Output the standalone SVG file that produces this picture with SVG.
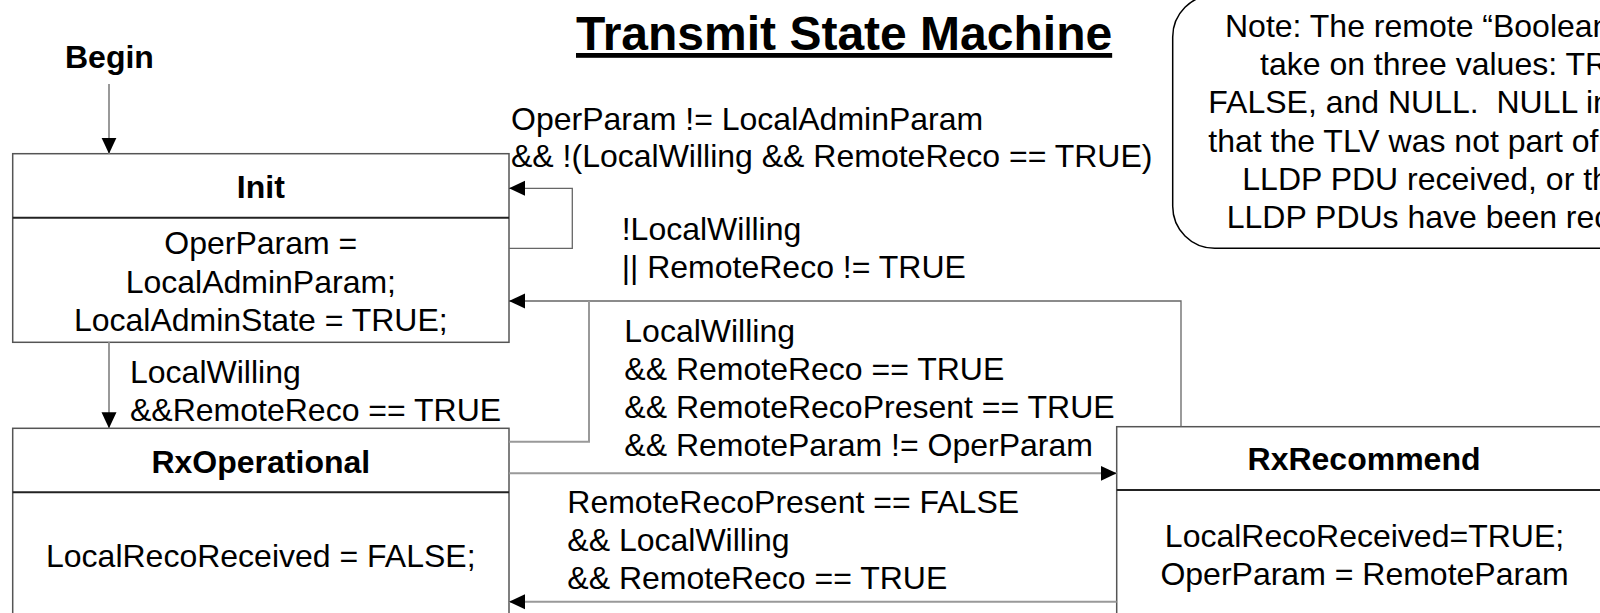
<svg xmlns="http://www.w3.org/2000/svg" width="1600" height="613" viewBox="0 0 1600 613">
  <style>
    text { font-family: "Liberation Sans", Arial, sans-serif; fill: #000; }
    .t { font-size: 32px; }
    .b { font-size: 32px; font-weight: bold; }
    .title { font-size: 48px; font-weight: bold; text-decoration: underline; }
    .mid { text-anchor: middle; }
    .box { fill: #fff; stroke: #555; stroke-width: 1.5; }
    .sep { stroke: #222; stroke-width: 2; }
    .c1 { fill: none; stroke: #999; stroke-width: 2; }
    .c2 { fill: none; stroke: #666; stroke-width: 1.3; }
  </style>
  <defs>
    <marker id="ah" markerUnits="userSpaceOnUse" markerWidth="16" markerHeight="16" viewBox="0 0 16 16" refX="16" refY="8" orient="auto">
      <path d="M0,0.5 L16,8 L0,15.5 Z" fill="#000"/>
    </marker>
  </defs>
  <rect width="1600" height="613" fill="#fff"/>

  <text id="title" class="title" x="576" y="50">Transmit State Machine</text>

  <g id="begin">
    <text class="b" x="65" y="68">Begin</text>
  </g>

  <g id="note">
    <rect x="1172.7" y="-5" width="480" height="253.3" rx="42" ry="42" fill="#fff" stroke="#000" stroke-width="1.5"/>
    <text class="t" x="1225" y="36.7">Note: The remote “Boolean</text>
    <text class="t" x="1260" y="75">take on three values: TR</text>
    <text class="t" x="1208.3" y="113.3" xml:space="preserve">FALSE, and NULL.  NULL in</text>
    <text class="t" x="1208.3" y="151.7">that the TLV was not part of</text>
    <text class="t" x="1242.3" y="190">LLDP PDU received, or th</text>
    <text class="t" x="1226.7" y="228.3">LLDP PDUs have been rec</text>
  </g>

  <g id="init">
    <rect class="box" x="12.7" y="153.7" width="496.3" height="188.6"/>
    <line class="sep" x1="12.7" y1="217.7" x2="509" y2="217.7"/>
    <text class="b mid" x="260.8" y="198.3">Init</text>
    <text class="t mid" x="260.8" y="254">OperParam =</text>
    <text class="t mid" x="260.8" y="292.5">LocalAdminParam;</text>
    <text class="t mid" x="260.8" y="331">LocalAdminState = TRUE;</text>
  </g>

  <g id="rxoperational">
    <rect class="box" x="12.7" y="428.3" width="496.3" height="200"/>
    <line class="sep" x1="12.7" y1="492.3" x2="509" y2="492.3"/>
    <text class="b mid" x="260.8" y="472.7">RxOperational</text>
    <text class="t mid" x="260.8" y="566.7">LocalRecoReceived = FALSE;</text>
  </g>

  <g id="rxrecommend">
    <rect class="box" x="1116.7" y="426.7" width="500" height="200"/>
    <line class="sep" x1="1116.7" y1="490" x2="1616" y2="490"/>
    <text class="b mid" x="1364" y="470">RxRecommend</text>
    <text class="t mid" x="1364.5" y="546.7">LocalRecoReceived=TRUE;</text>
    <text class="t mid" x="1364.5" y="585">OperParam = RemoteParam</text>
  </g>

  <g id="connectors">
    <path class="c1" d="M109,84 V153.7" marker-end="url(#ah)"/>
    <path class="c1" d="M109,342.3 V428.3" marker-end="url(#ah)"/>
    <path class="c2" d="M509,248.3 H572.3 V188.3 H509" marker-end="url(#ah)"/>
    <path class="c2" d="M1181,426.7 V301 H509" marker-end="url(#ah)"/>
    <path class="c1" d="M509,441.7 H589 V301"/>
    <path class="c1" d="M509,473.3 H1116.7" marker-end="url(#ah)"/>
    <path class="c1" d="M1116.7,601.7 H509" marker-end="url(#ah)"/>

    <text class="t" x="511" y="130">OperParam != LocalAdminParam</text>
    <text class="t" x="511" y="166.7">&amp;&amp; !(LocalWilling &amp;&amp; RemoteReco == TRUE)</text>

    <text class="t" x="621.7" y="240">!LocalWilling</text>
    <text class="t" x="621.7" y="278.3">|| RemoteReco != TRUE</text>

    <text class="t" x="130" y="382.7">LocalWilling</text>
    <text class="t" x="130" y="420.7">&amp;&amp;RemoteReco == TRUE</text>

    <text class="t" x="624.3" y="341.7">LocalWilling</text>
    <text class="t" x="624.3" y="380">&amp;&amp; RemoteReco == TRUE</text>
    <text class="t" x="624.3" y="418.3">&amp;&amp; RemoteRecoPresent == TRUE</text>
    <text class="t" x="624.3" y="456">&amp;&amp; RemoteParam != OperParam</text>

    <text class="t" x="567.3" y="513.3">RemoteRecoPresent == FALSE</text>
    <text class="t" x="567.3" y="550.7">&amp;&amp; LocalWilling</text>
    <text class="t" x="567.3" y="589.3">&amp;&amp; RemoteReco == TRUE</text>
  </g>
</svg>
